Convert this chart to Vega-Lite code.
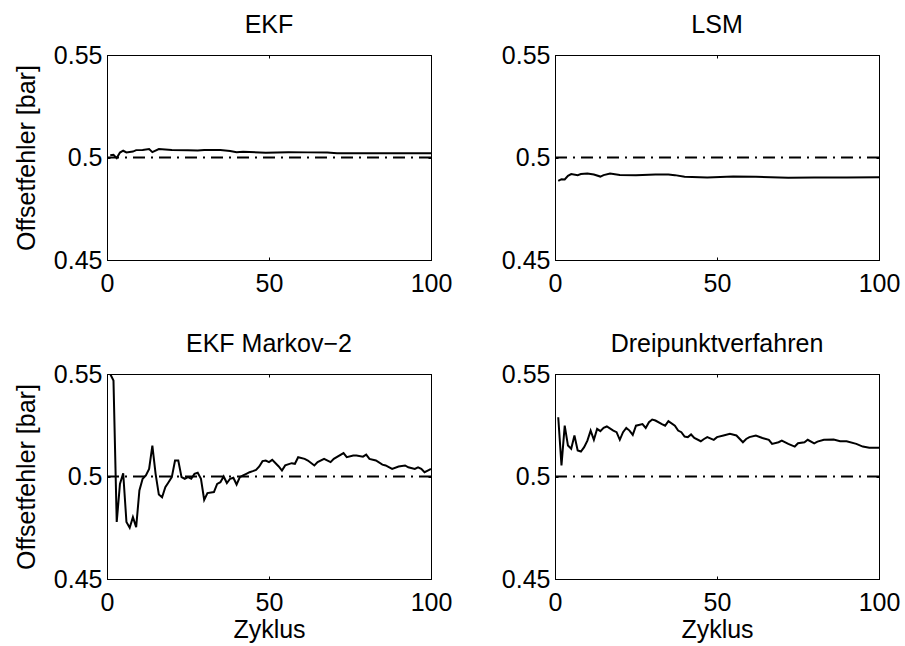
{
  "$schema": "https://vega.github.io/schema/vega-lite/v6.json",
  "padding": {"left": 13, "top": 12, "right": 5, "bottom": 5},
  "background": "white",
  "datasets": {
    "ekf": [
      {"x":1,"y":0.5011},{"x":2,"y":0.5013},{"x":3,"y":0.4997},{"x":4,"y":0.5024},{"x":5,"y":0.5033},{"x":6,"y":0.5025},{"x":8,"y":0.5029},{"x":9,"y":0.5036},{"x":11,"y":0.5037},{"x":13,"y":0.5041},{"x":14,"y":0.5026},{"x":16,"y":0.5041},{"x":20,"y":0.5037},{"x":25,"y":0.5035},{"x":28,"y":0.5034},{"x":30,"y":0.5037},{"x":35,"y":0.5036},{"x":38,"y":0.5032},{"x":40,"y":0.5026},{"x":42,"y":0.5028},{"x":49,"y":0.5023},{"x":56,"y":0.5026},{"x":62,"y":0.5025},{"x":68,"y":0.5024},{"x":71,"y":0.5021},{"x":80,"y":0.5021},{"x":90,"y":0.5021},{"x":100,"y":0.5021}
    ],
    "lsm": [
      {"x":1,"y":0.4886},{"x":2,"y":0.4894},{"x":3,"y":0.4893},{"x":4,"y":0.4911},{"x":5,"y":0.4919},{"x":7,"y":0.4914},{"x":8,"y":0.4919},{"x":10,"y":0.4922},{"x":12,"y":0.4917},{"x":14,"y":0.4907},{"x":15,"y":0.4914},{"x":17,"y":0.4922},{"x":20,"y":0.4915},{"x":25,"y":0.4914},{"x":31,"y":0.4917},{"x":35,"y":0.4917},{"x":37,"y":0.4914},{"x":40,"y":0.4906},{"x":47,"y":0.4902},{"x":55,"y":0.4907},{"x":62,"y":0.4906},{"x":72,"y":0.4901},{"x":80,"y":0.4902},{"x":90,"y":0.4903},{"x":100,"y":0.4904}
    ],
    "markov": [
      {"x":1,"y":0.55},{"x":2,"y":0.5468},{"x":3,"y":0.4778},{"x":4,"y":0.4964},{"x":5,"y":0.5016},{"x":6,"y":0.4778},{"x":7,"y":0.475},{"x":8,"y":0.4802},{"x":9,"y":0.4753},{"x":10,"y":0.4932},{"x":11,"y":0.4989},{"x":12,"y":0.5005},{"x":13,"y":0.5037},{"x":14,"y":0.5151},{"x":15,"y":0.5013},{"x":16,"y":0.4912},{"x":17,"y":0.4899},{"x":18,"y":0.4948},{"x":19,"y":0.4972},{"x":20,"y":0.4997},{"x":21,"y":0.5078},{"x":22,"y":0.5078},{"x":23,"y":0.4997},{"x":24,"y":0.4989},{"x":25,"y":0.4997},{"x":26,"y":0.4989},{"x":27,"y":0.5013},{"x":28,"y":0.5018},{"x":29,"y":0.4989},{"x":30,"y":0.4886},{"x":31,"y":0.4919},{"x":33,"y":0.4924},{"x":34,"y":0.4964},{"x":35,"y":0.4972},{"x":36,"y":0.5},{"x":37,"y":0.4968},{"x":38,"y":0.4989},{"x":39,"y":0.4994},{"x":40,"y":0.4961},{"x":41,"y":0.4997},{"x":42,"y":0.5005},{"x":43,"y":0.5013},{"x":44,"y":0.5021},{"x":45,"y":0.5026},{"x":46,"y":0.5032},{"x":47,"y":0.5049},{"x":48,"y":0.5075},{"x":49,"y":0.5078},{"x":50,"y":0.507},{"x":51,"y":0.5081},{"x":53,"y":0.5049},{"x":54,"y":0.5029},{"x":55,"y":0.5054},{"x":57,"y":0.5065},{"x":58,"y":0.5062},{"x":59,"y":0.5094},{"x":61,"y":0.5086},{"x":62,"y":0.5078},{"x":64,"y":0.5054},{"x":65,"y":0.507},{"x":67,"y":0.5086},{"x":69,"y":0.507},{"x":70,"y":0.5086},{"x":73,"y":0.5114},{"x":74,"y":0.5094},{"x":76,"y":0.5102},{"x":77,"y":0.5102},{"x":79,"y":0.5097},{"x":80,"y":0.5107},{"x":81,"y":0.5086},{"x":83,"y":0.5078},{"x":85,"y":0.5058},{"x":86,"y":0.5054},{"x":88,"y":0.5037},{"x":90,"y":0.5049},{"x":92,"y":0.5054},{"x":93,"y":0.5045},{"x":95,"y":0.5037},{"x":96,"y":0.5045},{"x":97,"y":0.5037},{"x":98,"y":0.5021},{"x":99,"y":0.5029},{"x":100,"y":0.5037}
    ],
    "drei": [
      {"x":1,"y":0.5289},{"x":2,"y":0.5054},{"x":3,"y":0.5248},{"x":4,"y":0.5151},{"x":5,"y":0.5135},{"x":6,"y":0.52},{"x":7,"y":0.5127},{"x":8,"y":0.5122},{"x":9,"y":0.5143},{"x":10,"y":0.5175},{"x":11,"y":0.5224},{"x":12,"y":0.5179},{"x":13,"y":0.5232},{"x":14,"y":0.5221},{"x":15,"y":0.5237},{"x":16,"y":0.5244},{"x":18,"y":0.5224},{"x":19,"y":0.5216},{"x":20,"y":0.5179},{"x":21,"y":0.5216},{"x":22,"y":0.5237},{"x":23,"y":0.5224},{"x":24,"y":0.5203},{"x":25,"y":0.5248},{"x":27,"y":0.5256},{"x":28,"y":0.5237},{"x":29,"y":0.5265},{"x":30,"y":0.5278},{"x":31,"y":0.5273},{"x":33,"y":0.5256},{"x":34,"y":0.5248},{"x":35,"y":0.527},{"x":37,"y":0.5248},{"x":38,"y":0.5224},{"x":39,"y":0.5216},{"x":40,"y":0.5195},{"x":41,"y":0.5192},{"x":42,"y":0.5205},{"x":43,"y":0.5188},{"x":45,"y":0.5172},{"x":46,"y":0.5183},{"x":47,"y":0.5192},{"x":49,"y":0.5179},{"x":50,"y":0.5192},{"x":52,"y":0.52},{"x":54,"y":0.5208},{"x":56,"y":0.52},{"x":58,"y":0.5167},{"x":59,"y":0.5183},{"x":60,"y":0.5192},{"x":62,"y":0.52},{"x":64,"y":0.5188},{"x":66,"y":0.5179},{"x":67,"y":0.5159},{"x":69,"y":0.5167},{"x":70,"y":0.5175},{"x":72,"y":0.5159},{"x":74,"y":0.5146},{"x":75,"y":0.5162},{"x":77,"y":0.5167},{"x":78,"y":0.5179},{"x":80,"y":0.5162},{"x":81,"y":0.517},{"x":83,"y":0.5179},{"x":86,"y":0.518},{"x":88,"y":0.5172},{"x":90,"y":0.5172},{"x":93,"y":0.5159},{"x":95,"y":0.5146},{"x":97,"y":0.514},{"x":100,"y":0.514}
    ],
    "ref": [{"x0":0,"x1":100,"ref":0.5}]
  },
  "columns": 2,
  "spacing": {"row": 114, "column": 124},
  "bounds": "flush",
  "concat": [
    {
      "title": "EKF", "width": 324, "height": 205,
      "layer": [
        {"data": {"name":"ekf"}, "mark": {"type":"line","color":"black","strokeWidth":2,"clip":true},
         "encoding": {
           "x": {"field":"x","type":"quantitative","scale":{"domain":[0,100],"nice":false},"axis":{"orient":"bottom","values":[0,50,100],"title":null}},
           "y": {"field":"y","type":"quantitative","scale":{"domain":[0.45,0.55],"nice":false,"zero":false},"axis":{"orient":"left","values":[0.45,0.5,0.55],"format":".2~f","title":"Offsetfehler [bar]"}}}},
        {"data": {"name":"ref"}, "mark": {"type":"rule","color":"black","strokeWidth":2,"strokeDash":[12,6,2,6]},
         "encoding": {
           "x": {"field":"x0","type":"quantitative","axis":{"orient":"top","values":[0,50,100],"labels":false,"title":null}},
           "x2": {"field":"x1"},
           "y": {"field":"ref","type":"quantitative","axis":{"orient":"right","values":[0.45,0.5,0.55],"labels":false,"title":null}}}}
      ]
    },
    {
      "title": "LSM", "width": 324, "height": 205,
      "layer": [
        {"data": {"name":"lsm"}, "mark": {"type":"line","color":"black","strokeWidth":2,"clip":true},
         "encoding": {
           "x": {"field":"x","type":"quantitative","scale":{"domain":[0,100],"nice":false},"axis":{"orient":"bottom","values":[0,50,100],"title":null}},
           "y": {"field":"y","type":"quantitative","scale":{"domain":[0.45,0.55],"nice":false,"zero":false},"axis":{"orient":"left","values":[0.45,0.5,0.55],"format":".2~f","title":null}}}},
        {"data": {"name":"ref"}, "mark": {"type":"rule","color":"black","strokeWidth":2,"strokeDash":[12,6,2,6]},
         "encoding": {
           "x": {"field":"x0","type":"quantitative","axis":{"orient":"top","values":[0,50,100],"labels":false,"title":null}},
           "x2": {"field":"x1"},
           "y": {"field":"ref","type":"quantitative","axis":{"orient":"right","values":[0.45,0.5,0.55],"labels":false,"title":null}}}}
      ]
    },
    {
      "title": "EKF Markov−2", "width": 324, "height": 205,
      "layer": [
        {"data": {"name":"markov"}, "mark": {"type":"line","color":"black","strokeWidth":2,"clip":true},
         "encoding": {
           "x": {"field":"x","type":"quantitative","scale":{"domain":[0,100],"nice":false},"axis":{"orient":"bottom","values":[0,50,100],"title":"Zyklus"}},
           "y": {"field":"y","type":"quantitative","scale":{"domain":[0.45,0.55],"nice":false,"zero":false},"axis":{"orient":"left","values":[0.45,0.5,0.55],"format":".2~f","title":"Offsetfehler [bar]"}}}},
        {"data": {"name":"ref"}, "mark": {"type":"rule","color":"black","strokeWidth":2,"strokeDash":[12,6,2,6]},
         "encoding": {
           "x": {"field":"x0","type":"quantitative","axis":{"orient":"top","values":[0,50,100],"labels":false,"title":null}},
           "x2": {"field":"x1"},
           "y": {"field":"ref","type":"quantitative","axis":{"orient":"right","values":[0.45,0.5,0.55],"labels":false,"title":null}}}}
      ]
    },
    {
      "title": "Dreipunktverfahren", "width": 324, "height": 205,
      "layer": [
        {"data": {"name":"drei"}, "mark": {"type":"line","color":"black","strokeWidth":2,"clip":true},
         "encoding": {
           "x": {"field":"x","type":"quantitative","scale":{"domain":[0,100],"nice":false},"axis":{"orient":"bottom","values":[0,50,100],"title":"Zyklus"}},
           "y": {"field":"y","type":"quantitative","scale":{"domain":[0.45,0.55],"nice":false,"zero":false},"axis":{"orient":"left","values":[0.45,0.5,0.55],"format":".2~f","title":null}}}},
        {"data": {"name":"ref"}, "mark": {"type":"rule","color":"black","strokeWidth":2,"strokeDash":[12,6,2,6]},
         "encoding": {
           "x": {"field":"x0","type":"quantitative","axis":{"orient":"top","values":[0,50,100],"labels":false,"title":null}},
           "x2": {"field":"x1"},
           "y": {"field":"ref","type":"quantitative","axis":{"orient":"right","values":[0.45,0.5,0.55],"labels":false,"title":null}}}}
      ]
    }
  ],
  "config": {
    "font": "Liberation Sans",
    "view": {"stroke": "black", "strokeWidth": 1},
    "axis": {
      "grid": false, "domainColor": "black", "domainWidth": 1, "tickColor": "black", "tickWidth": 1, "tickSize": -3,
      "labelColor": "black", "titleColor": "black", "labelFontSize": 25, "titleFontSize": 25, "titleFontWeight": "normal",
      "labelFlush": false, "labelOverlap": false, "minExtent": 0
    },
    "axisX": {"labelPadding": 14, "titlePadding": 2},
    "axisY": {"labelPadding": 8, "titlePadding": 14},
    "title": {"fontSize": 25, "fontWeight": "normal", "color": "black", "offset": 5}
  }
}
